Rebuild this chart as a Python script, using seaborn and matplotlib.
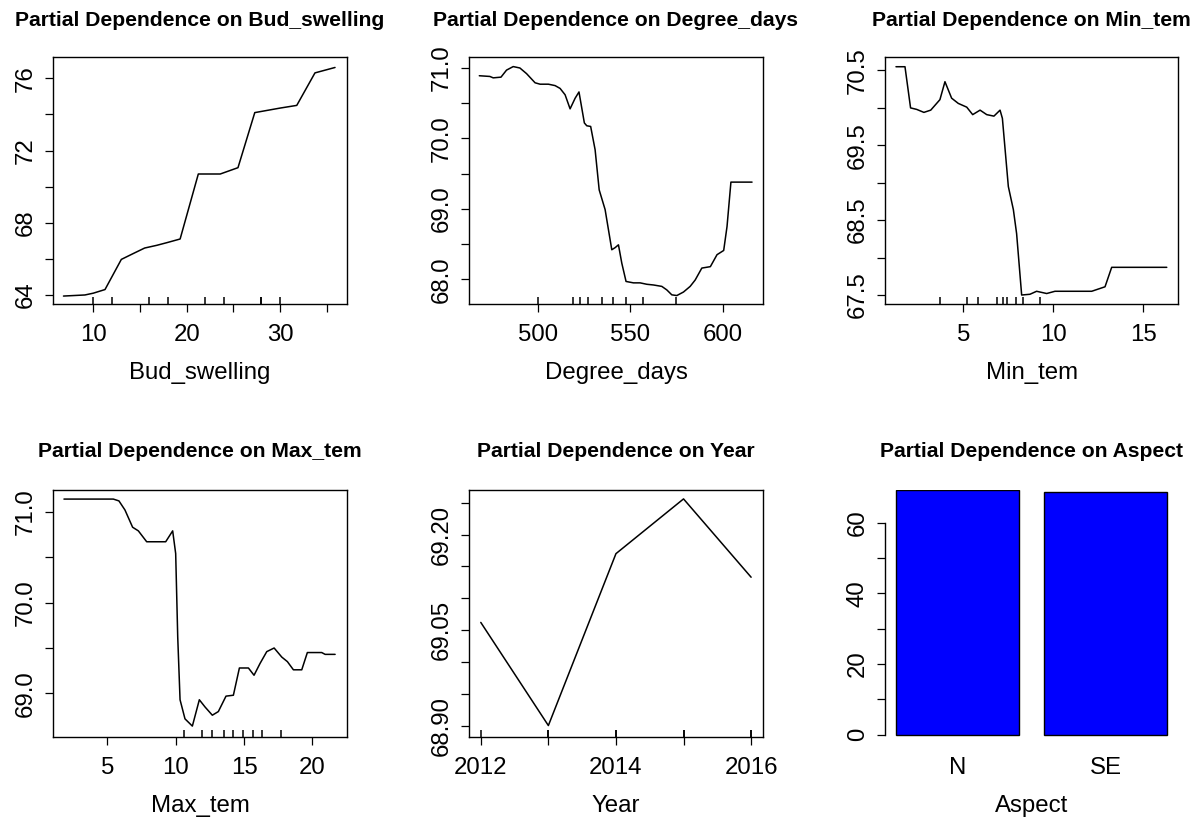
import matplotlib
matplotlib.use("Agg")
import matplotlib.pyplot as plt
import seaborn as sns

sns.set_style("ticks")
plt.rcParams["font.family"] = ["Liberation Sans", "DejaVu Sans"]
plt.rcParams["axes.edgecolor"] = "black"
plt.rcParams["axes.labelcolor"] = "black"
plt.rcParams["text.color"] = "black"
plt.rcParams["xtick.color"] = "black"
plt.rcParams["ytick.color"] = "black"

# ---- partial dependence curves ----
bud_x = [6.8, 9.1, 10.0, 11.25, 13.0, 14.3, 15.5, 16.8, 17.9, 19.3, 21.25,
         23.6, 25.5, 27.3, 30.0, 31.8, 33.75, 35.9]
bud_y = [63.94, 64.0, 64.1, 64.3, 65.97, 66.3, 66.6, 66.75, 66.9, 67.1, 70.7,
         70.7, 71.05, 74.1, 74.35, 74.5, 76.3, 76.6]
bud_rug = [10.0, 12.0, 16.0, 18.0, 22.0, 24.0, 28.0, 28.0, 30.0]

dd_x = [468.5, 474.2, 476.0, 480.2, 483.2, 486.8, 490.4, 494.0, 498.6, 501.3,
        505.8, 509.4, 512.1, 514.8, 517.5, 520.2, 522.3, 525.2, 526.5, 528.6,
        531.0, 533.2, 536.4, 540.0, 541.8, 543.6, 545.4, 547.7, 551.7, 555.3,
        558.9, 562.5, 567.0, 569.7, 572.4, 575.1, 578.7, 582.3, 585.0, 588.6,
        593.2, 596.8, 600.4, 602.2, 604.3, 615.7]
dd_y = [70.89, 70.88, 70.86, 70.87, 70.97, 71.02, 71.0, 70.92, 70.79, 70.77,
        70.77, 70.75, 70.71, 70.62, 70.42, 70.57, 70.66, 70.22, 70.18, 70.17,
        69.84, 69.27, 68.99, 68.42, 68.45, 68.49, 68.23, 67.97, 67.95, 67.95,
        67.93, 67.92, 67.9, 67.85, 67.78, 67.77, 67.82, 67.9, 67.99, 68.16,
        68.18, 68.35, 68.41, 68.75, 69.38, 69.38]
dd_rug = [500.0, 519.1, 522.7, 527.2, 534.7, 540.6, 547.7, 557.0, 574.5]

min_x = [1.26, 1.76, 2.07, 2.41, 2.81, 3.19, 3.7, 3.98, 4.35, 4.72, 5.19, 5.52,
         5.93, 6.3, 6.7, 7.04, 7.17, 7.5, 7.78, 7.96, 8.24, 8.7, 9.07, 9.63,
         10.09, 10.74, 12.13, 12.87, 13.24, 16.3]
min_y = [70.55, 70.55, 70.0, 69.98, 69.94, 69.97, 70.11, 70.35, 70.13, 70.06,
         70.01, 69.91, 69.97, 69.91, 69.89, 69.97, 69.86, 68.95, 68.64, 68.32,
         67.5, 67.51, 67.55, 67.52, 67.55, 67.55, 67.55, 67.61, 67.87, 67.87]
min_rug = [3.70, 5.19, 5.82, 6.86, 7.23, 7.42, 7.94, 8.31, 9.28]

max_x = [1.83, 5.44, 5.85, 6.29, 6.85, 7.27, 7.88, 9.27, 9.78, 10.0, 10.15,
         10.32, 10.68, 11.22, 11.73, 12.15, 12.68, 13.12, 13.68, 14.22, 14.66,
         15.32, 15.73, 16.17, 16.66, 17.2, 17.76, 18.17, 18.61, 19.22, 19.63,
         20.68, 20.93, 21.66]
max_y = [71.14, 71.14, 71.12, 71.02, 70.83, 70.79, 70.67, 70.67, 70.79, 70.54,
         69.62, 68.93, 68.72, 68.64, 68.93, 68.85, 68.76, 68.8, 68.97, 68.98,
         69.28, 69.28, 69.2, 69.33, 69.46, 69.5, 69.4, 69.35, 69.26, 69.26,
         69.45, 69.45, 69.43, 69.43]
max_rug = [10.62, 11.89, 12.62, 13.52, 14.2, 14.93, 15.62, 16.32, 17.69]

year_x = [2012, 2013, 2014, 2015, 2016]
year_y = [69.062, 68.90, 69.17, 69.256, 69.133]
year_rug = [2012, 2013, 2013, 2014, 2014, 2015, 2015, 2016, 2016]

aspect_levels = ["N", "SE"]
aspect_values = [69.3, 68.8]

# ---- layout (pixels of a 1198 x 819 canvas) ----
W, H = 1198, 819
BOX_W, BOX_H = 293.3, 247.0
COLS = [53.3, 469.3, 885.0]
ROWS = [57.0, 490.0]
TICK_FS = 17.3
TITLE_FS = 15.2
LINE_W = 1.1

fig = plt.figure(figsize=(W / 100, H / 100), dpi=100)


def make_axes(col, row):
    left, top = COLS[col], ROWS[row]
    return fig.add_axes([left / W, 1 - (top + BOX_H) / H, BOX_W / W, BOX_H / H])


def style_common(ax, xlabel, title, title_pad):
    ax.set_title(title, fontsize=TITLE_FS, fontweight="bold", pad=title_pad,
                 color="black")
    ax.set_xlabel(xlabel, fontsize=TICK_FS, va="baseline", color="black")
    ax.xaxis.set_label_coords(0.5, -75 / BOX_H)
    ax.set_ylabel("")


def pd_panel(ax, x, y, rug, xlim, ylim, xticks, xlabels, yticks, ylabels,
             xlabel, title, title_pad):
    sns.lineplot(x=x, y=y, ax=ax, color="black", linewidth=LINE_W,
                 sort=False, estimator=None)
    sns.rugplot(x=rug, ax=ax, height=0.03, color="black", linewidth=LINE_W)
    ax.set_xlim(*xlim)
    ax.set_ylim(*ylim)
    ax.set_xticks(xticks)
    ax.set_xticklabels(xlabels)
    ax.set_yticks(yticks)
    ax.set_yticklabels(ylabels, rotation=90, va="center")
    ax.tick_params(axis="both", direction="out", length=5.8, width=0.9,
                   labelsize=TICK_FS)
    ax.tick_params(axis="x", pad=8.6)
    ax.tick_params(axis="y", pad=5.8)
    for s in ax.spines.values():
        s.set_visible(True)
        s.set_linewidth(1.0)
        s.set_color("black")
    style_common(ax, xlabel, title, title_pad)


def every_other(vals, fmt):
    return [fmt.format(v) if i % 2 == 0 else "" for i, v in enumerate(vals)]


# Bud_swelling
ax = make_axes(0, 0)
yt = [64, 66, 68, 70, 72, 74, 76]
pd_panel(ax, bud_x, bud_y, bud_rug, (5.71, 37.14), (63.5, 77.18),
         [10, 15, 20, 25, 30, 35], ["10", "", "20", "", "30", ""],
         yt, every_other(yt, "{:d}"),
         "Bud_swelling", "Partial Dependence on Bud_swelling", 22.1)

# Degree_days
ax = make_axes(1, 0)
yt = [68.0, 68.5, 69.0, 69.5, 70.0, 70.5, 71.0]
pd_panel(ax, dd_x, dd_y, dd_rug, (463.1, 621.4), (67.65, 71.156),
         [500, 550, 600], ["500", "550", "600"],
         yt, every_other(yt, "{:.1f}"),
         "Degree_days", "Partial Dependence on Degree_days", 22.1)

# Min_tem
ax = make_axes(2, 0)
yt = [67.5, 68.0, 68.5, 69.0, 69.5, 70.0, 70.5]
pd_panel(ax, min_x, min_y, min_rug, (0.65, 16.94), (67.38, 70.68),
         [5, 10, 15], ["5", "10", "15"],
         yt, every_other(yt, "{:.1f}"),
         "Min_tem", "Partial Dependence on Min_tem", 22.1)

# Max_tem
ax = make_axes(0, 1)
yt = [69.0, 69.5, 70.0, 70.5, 71.0]
pd_panel(ax, max_x, max_y, max_rug, (1.05, 22.5), (68.52, 71.24),
         [5, 10, 15, 20], ["5", "10", "15", "20"],
         yt, every_other(yt, "{:.1f}"),
         "Max_tem", "Partial Dependence on Max_tem", 24.0)

# Year
ax = make_axes(1, 1)
yt = [68.90, 68.95, 69.00, 69.05, 69.10, 69.15, 69.20, 69.25]
ylab = ["68.90", "", "", "69.05", "", "", "69.20", ""]
pd_panel(ax, year_x, year_y, year_rug, (2011.83, 2016.17), (68.882, 69.27),
         [2012, 2013, 2014, 2015, 2016], ["2012", "", "2014", "", "2016"],
         yt, ylab,
         "Year", "Partial Dependence on Year", 24.0)

# Aspect (categorical)
ax = make_axes(2, 1)
sns.barplot(x=aspect_levels, y=aspect_values, ax=ax, color="#0000FF",
            saturation=1, width=0.833, edgecolor="black", linewidth=1.0)
ax.set_xlim(-0.49, 1.49)
ax.set_ylim(-0.69, 69.3)
for name in ["top", "right", "bottom"]:
    ax.spines[name].set_visible(False)
ax.spines["left"].set_bounds(0, 60)
ax.spines["left"].set_linewidth(1.0)
yt = [0, 10, 20, 30, 40, 50, 60]
ax.set_yticks(yt)
ax.set_yticklabels(every_other(yt, "{:d}"), rotation=90, va="center")
ax.tick_params(axis="y", direction="out", length=5.8, width=0.9,
               labelsize=TICK_FS, pad=5.8)
ax.tick_params(axis="x", length=0, labelsize=TICK_FS, pad=14.4)
style_common(ax, "Aspect", "Partial Dependence on Aspect", 24.0)

fig.savefig("out.png", dpi=100, facecolor="white")
